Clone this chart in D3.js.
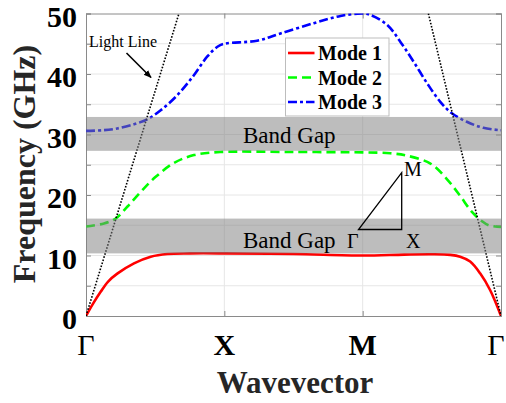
<!DOCTYPE html>
<html>
<head>
<meta charset="utf-8">
<script src="https://cdn.jsdelivr.net/npm/d3@7"></script>
<style>
  html, body { margin: 0; padding: 0; background: #fff; }
  svg { display: block; font-family: "Liberation Serif", "Times New Roman", serif; }
</style>
</head>
<body>
<svg id="chart" width="506" height="403"></svg>
<script>
// ---------- data ----------
const kTicks = [0, 1, 2, 3];
const kLabels = ["Γ", "X", "M", "Γ"];
const kLabelBold = [false, true, true, false];
const freqTicks = [0, 10, 20, 30, 40, 50];
const freqMinor = [0, 5, 10, 15, 20, 25, 30, 35, 40, 45, 50];

const mode1K = [0, 0.05, 0.106, 0.16, 0.226, 0.347, 0.468, 0.588, 0.75, 1.0, 1.5, 2.0, 2.3, 2.5, 2.633, 2.705, 2.777, 2.849, 2.921, 3.0];
const mode1F = [0, 2.0, 4.0, 5.7, 7.0, 8.7, 9.8, 10.25, 10.35, 10.35, 10.25, 10.0, 10.15, 10.2, 10.1, 9.8, 9.0, 7.05, 4.3, 0];

const mode2K = [0, 0.13, 0.215, 0.3, 0.395, 0.504, 0.636, 0.78, 0.97, 1.5, 2.0, 2.2, 2.32, 2.49, 2.61, 2.70, 2.79, 2.86, 2.91, 3.0];
const mode2F = [14.8, 15.3, 16.1, 18.1, 20.5, 23.0, 25.3, 26.6, 27.1, 27.1, 27.05, 26.9, 26.5, 25.2, 22.6, 20.0, 17.2, 15.7, 15.0, 14.7];

const mode3K = [0, 0.12, 0.226, 0.347, 0.443, 0.54, 0.66, 0.78, 0.877, 0.95, 1.0, 1.237, 1.406, 1.647, 1.84, 2.0, 2.058, 2.178, 2.273, 2.369, 2.465, 2.561, 2.645, 2.753, 2.873, 3.0];
const mode3F = [30.6, 30.7, 31.0, 31.7, 32.5, 34.0, 36.5, 39.8, 42.9, 44.5, 45.0, 45.5, 46.7, 48.4, 49.6, 50.0, 49.75, 48.1, 45.3, 42.0, 38.5, 35.4, 33.5, 32.1, 31.1, 30.7];

const lightLeftK = [0, 0.672];
const lightLeftF = [0, 50];
const lightRightK = [2.475, 3.0];
const lightRightF = [50, 0];

const bandGapLow = [10.35, 16.1];
const bandGapHigh = [27.3, 32.9];

const seriesNames = ["Mode 1", "Mode 2", "Mode 3"];
const seriesColors = ["#ff0000", "#00ff00", "#0000ff"];
const seriesDash = [null, "9,5", "9,3,3,3"];

// ---------- layout ----------
const svg = d3.select("#chart");
const L = 86, R = 501, T = 13.5, B = 316;
const x = d3.scaleLinear().domain([0, 3]).range([L, R]);
const y = d3.scaleLinear().domain([0, 50]).range([B, T]);

svg.append("defs").append("clipPath").attr("id", "clip")
  .append("rect").attr("x", L).attr("y", T).attr("width", R - L).attr("height", B - T);

// grid
const grid = svg.append("g");
grid.selectAll("line.h").data(freqMinor.slice(1, -1)).enter().append("line")
  .attr("x1", L).attr("x2", R).attr("y1", d => y(d)).attr("y2", d => y(d))
  .attr("stroke", "#e6e6e6").attr("stroke-width", 1);
grid.selectAll("line.v").data(kTicks.slice(1, -1)).enter().append("line")
  .attr("y1", T).attr("y2", B).attr("x1", d => x(d)).attr("x2", d => x(d))
  .attr("stroke", "#e6e6e6").attr("stroke-width", 1);

// axes with inward ticks
const axL = d3.axisLeft(y).tickValues(freqMinor).tickSize(-5).tickFormat("");
const axR = d3.axisRight(y).tickValues(freqMinor).tickSize(-5).tickFormat("");
const axB = d3.axisBottom(x).tickValues(kTicks).tickSize(-5).tickFormat("");
const axT = d3.axisTop(x).tickValues(kTicks).tickSize(-5).tickFormat("");
[[axL, `translate(${L},0)`], [axR, `translate(${R},0)`], [axB, `translate(0,${B})`], [axT, `translate(0,${T})`]]
  .forEach(([a, t]) => {
    const g = svg.append("g").attr("transform", t).call(a);
    g.selectAll("path,line").attr("stroke", "#8a8a8a").attr("stroke-width", 1);
  });

// curves
const plot = svg.append("g").attr("clip-path", "url(#clip)");
const line = d3.line().x(d => x(d[0])).y(d => y(d[1])).curve(d3.curveCatmullRom.alpha(0.5));
const modes = [d3.zip(mode1K, mode1F), d3.zip(mode2K, mode2F), d3.zip(mode3K, mode3F)];
modes.forEach((m, i) => {
  plot.append("path").datum(m).attr("d", line)
    .attr("fill", "none").attr("stroke", seriesColors[i]).attr("stroke-width", 2.6)
    .attr("stroke-dasharray", seriesDash[i]);
});

// light lines
const straight = d3.line().x(d => x(d[0])).y(d => y(d[1]));
[d3.zip(lightLeftK, lightLeftF), d3.zip(lightRightK, lightRightF)].forEach(l => {
  plot.append("path").datum(l).attr("d", straight)
    .attr("fill", "none").attr("stroke", "#000").attr("stroke-width", 1.6)
    .attr("stroke-dasharray", "1.6,1.6");
});

// band gaps (semi-transparent over lines)
[bandGapLow, bandGapHigh].forEach(b => {
  svg.append("rect").attr("x", L).attr("width", R - L)
    .attr("y", y(b[1])).attr("height", y(b[0]) - y(b[1]))
    .attr("fill", "#808080").attr("fill-opacity", 0.52);
});
svg.append("text").attr("x", 243).attr("y", 142.5).attr("font-size", 23).text("Band Gap");
svg.append("text").attr("x", 243).attr("y", 248).attr("font-size", 23).text("Band Gap");

// Brillouin triangle inset
svg.append("path").attr("d", `M358.5,229.5 L401.7,229.5 L401.7,172.7 Z`)
  .attr("fill", "none").attr("stroke", "#000").attr("stroke-width", 1.3);
svg.append("text").attr("x", 404).attr("y", 175.5).attr("font-size", 20).text("M");
svg.append("text").attr("x", 347).attr("y", 248).attr("font-size", 20).text("Γ");
svg.append("text").attr("x", 406).attr("y", 248).attr("font-size", 20).text("X");

// light line annotation
svg.append("defs").append("marker").attr("id", "arr").attr("viewBox", "0 0 10 10")
  .attr("refX", 9).attr("refY", 5).attr("markerWidth", 5).attr("markerHeight", 5)
  .attr("orient", "auto").append("path").attr("d", "M0,1 L10,5 L0,9 Z").attr("fill", "#000");
svg.append("line").attr("x1", 126.5).attr("y1", 53).attr("x2", 151).attr("y2", 77.5)
  .attr("stroke", "#000").attr("stroke-width", 1.6).attr("marker-end", "url(#arr)");
svg.append("text").attr("x", 89).attr("y", 47).attr("font-size", 16).text("Light Line");

// legend
const lg = svg.append("g");
lg.append("rect").attr("x", 285.5).attr("y", 38).attr("width", 103.5).attr("height", 78)
  .attr("fill", "#fff").attr("stroke", "#bdbdbd").attr("stroke-width", 1);
seriesNames.forEach((n, i) => {
  const yy = 53 + i * 24.5;
  lg.append("line").attr("x1", 288).attr("x2", 314.5).attr("y1", yy).attr("y2", yy)
    .attr("stroke", seriesColors[i]).attr("stroke-width", 2.6).attr("stroke-dasharray", seriesDash[i]);
  lg.append("text").attr("x", 318).attr("y", yy + 7).attr("font-size", 20).attr("font-weight", "bold").text(n);
});

// tick labels
svg.selectAll("text.yt").data(freqTicks).enter().append("text")
  .attr("x", 77).attr("y", d => y(d) + 13).attr("text-anchor", "end")
  .attr("font-size", 30).attr("font-weight", "bold").attr("fill", "#000").text(d => d);
svg.selectAll("text.xt").data(kTicks).enter().append("text")
  .attr("x", d => Math.min(x(d), 496)).attr("y", 355).attr("text-anchor", "middle")
  .attr("font-size", 30).attr("font-weight", (d, i) => kLabelBold[i] ? "bold" : "normal")
  .attr("fill", "#000").text((d, i) => kLabels[i]);

// axis titles
svg.append("text").attr("x", 295).attr("y", 393).attr("text-anchor", "middle")
  .attr("font-size", 31).attr("font-weight", "bold").attr("fill", "#262626").text("Wavevector");
svg.append("text").attr("transform", "translate(35,164) rotate(-90)").attr("text-anchor", "middle")
  .attr("font-size", 32).attr("font-weight", "bold").attr("fill", "#262626").text("Frequency (GHz)");
</script>
</body>
</html>
